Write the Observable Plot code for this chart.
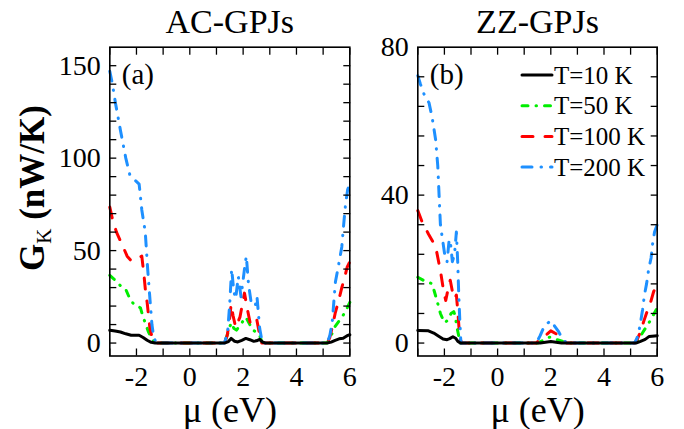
<!DOCTYPE html>
<html><head><meta charset="utf-8">
<script src="https://cdn.jsdelivr.net/npm/d3@7"></script>
<script src="https://cdn.jsdelivr.net/npm/@observablehq/plot@0.6"></script>
<style>
body{margin:0;background:#fff;}
#fig{position:relative;width:684px;height:429px;overflow:hidden;background:#fff;}
#fig svg{position:absolute;top:0;}
#fig svg text{font-family:"Liberation Serif", "Times New Roman", serif !important;}
</style></head><body><div id="fig"></div>
<script>
// ---------- data (mu in eV, G_K in nW/K) ----------
const seriesNames = ["T=10 K", "T=50 K", "T=100 K", "T=200 K"];
const panelTitles = ["AC-GPJs", "ZZ-GPJs"];
const panelTags = ["(a)", "(b)"];
const xTicks = [-3, -2, -1, 0, 1, 2, 3, 4, 5, 6];
const xTickLabels = [-2, 0, 2, 4, 6];
const yTicksA = [0, 10, 20, 30, 40, 50, 60, 70, 80, 90, 100, 110, 120, 130, 140, 150];
const yTickLabelsA = [0, 50, 100, 150];
const yTicksB = [0, 8, 16, 24, 32, 40, 48, 56, 64, 72];
const yTickLabelsB = [0, 40, 80];

const acT10 = [[-3,6.9],[-2.8,6.5],[-2.6,6],[-2.4,5],[-2.2,4.2],[-1.9,4.2],[-1.75,3],[-1.6,1.5],[-1.45,0.4],[-1.3,0],[1.3,0],[1.45,0.8],[1.55,2.5],[1.68,1],[1.8,0.6],[1.95,1.5],[2.1,2.5],[2.25,1.8],[2.38,1],[2.5,1.2],[2.62,2],[2.72,0.6],[2.85,0],[5.15,0],[5.3,0.5],[5.45,1.5],[5.6,2.3],[5.75,2.6],[5.9,4],[6,4.5]];
const acT50 = [[-3,36.6],[-2.8,34],[-2.6,31],[-2.4,29],[-2.25,24],[-2.1,21],[-1.95,20],[-1.85,19],[-1.75,14],[-1.66,10.5],[-1.55,6],[-1.47,3.5],[-1.35,1],[-1.25,0],[1.3,0],[1.42,5],[1.5,9],[1.57,11],[1.65,8],[1.75,7],[1.9,10],[2.1,14],[2.25,10],[2.35,7],[2.5,6],[2.62,4],[2.72,0],[5.15,0],[5.3,4],[5.45,9],[5.6,12],[5.75,15],[5.9,19],[6,22]];
const acT100 = [[-3,73.5],[-2.9,67],[-2.75,60],[-2.5,52],[-2.35,47],[-2.2,44.5],[-2.0,45.5],[-1.8,47],[-1.72,37],[-1.66,28],[-1.6,22],[-1.5,8.5],[-1.4,2],[-1.3,0],[1.3,0],[1.4,4],[1.47,10],[1.55,21],[1.62,15],[1.72,8.5],[1.88,14],[2.05,27],[2.15,19],[2.27,10.5],[2.5,13.5],[2.6,6],[2.7,0],[5.15,0],[5.25,3],[5.35,9],[5.45,16],[5.6,24],[5.7,30],[5.8,35],[5.9,41],[6,44]];
const acT200 = [[-3,147],[-2.9,140],[-2.79,130],[-2.6,115],[-2.4,100],[-2.25,91],[-2.05,88],[-1.9,86],[-1.8,72],[-1.67,60],[-1.58,40],[-1.49,23],[-1.42,10],[-1.35,3],[-1.25,0],[1.3,0],[1.42,6],[1.5,22],[1.57,40],[1.65,28],[1.72,24],[1.82,36],[1.92,25],[2.05,40],[2.12,47],[2.2,32],[2.3,22],[2.45,20],[2.52,25],[2.62,8],[2.72,0],[5.15,0],[5.25,4],[5.34,11],[5.4,22],[5.46,33],[5.59,43],[5.7,52],[5.77,64],[5.84,75],[5.92,83],[6,86]];

const zzT10 = [[-3,3.4],[-2.6,3.3],[-2.4,2.7],[-2.2,1.8],[-2.05,1.1],[-1.9,0.9],[-1.8,1.2],[-1.68,1.7],[-1.58,1.3],[-1.5,0.5],[-1.4,0],[1.6,0],[2,0.4],[2.4,0],[5.2,0],[5.35,0.4],[5.55,1],[5.7,1.8],[6,2]];
const zzT50 = [[-3,17.8],[-2.8,17],[-2.6,16.5],[-2.46,16],[-2.28,11.5],[-2.15,8],[-2.0,5.5],[-1.9,6],[-1.75,8],[-1.65,8.5],[-1.6,7.5],[-1.52,4],[-1.45,1.5],[-1.4,0],[1.5,0],[1.7,0.7],[1.95,1.6],[2.2,1],[2.4,0.6],[2.6,0],[5.2,0],[5.3,1],[5.45,2.8],[5.62,4.7],[5.75,6.2],[5.85,7.5],[6,9.5]];
const zzT100 = [[-3,35.8],[-2.85,33],[-2.6,29.5],[-2.4,27],[-2.3,25],[-2.15,19.6],[-2.05,15],[-1.95,11.5],[-1.85,15],[-1.78,17],[-1.7,14],[-1.62,12],[-1.55,13],[-1.5,9],[-1.45,4],[-1.4,1],[-1.35,0],[1.45,0],[1.6,1],[1.8,2],[2.0,3.3],[2.2,2.5],[2.4,1.2],[2.6,0],[5.15,0],[5.25,1],[5.37,3],[5.5,6],[5.62,8.5],[5.75,11],[5.87,14],[6,15.5]];
const zzT200 = [[-3,72.3],[-2.9,70],[-2.75,67],[-2.58,65],[-2.46,61],[-2.33,55],[-2.25,48],[-2.2,40],[-2.15,32],[-2.05,27],[-1.97,23],[-1.9,22],[-1.82,28],[-1.77,27],[-1.7,22],[-1.62,24],[-1.55,30],[-1.5,22],[-1.46,13],[-1.42,6],[-1.38,0],[1.45,0],[1.6,2],[1.75,4.5],[1.9,5.5],[2.02,6],[2.15,4.5],[2.3,3],[2.45,1],[2.6,0],[5.15,0],[5.25,1.5],[5.35,4.5],[5.45,9],[5.52,13],[5.6,16],[5.68,20],[5.77,23],[5.83,27],[5.9,30],[6,32]];

// ---------- styles ----------
const styles = [
  {color: "#000000", dash: null, width: 3},
  {color: "#00ee00", dash: "6,8,0.5,8", width: 3},
  {color: "#ff0000", dash: "11,12", width: 3},
  {color: "#1e90ff", dash: "10,9,0.5,9", width: 3}
];
const FONT = "Liberation Serif, Times New Roman, serif";
const H = 429, MT = 46.7, MB = 73.5;

function panel({data, yDomain, yTicks, yLabels, width, marginLeft, marginRight, tag, title}) {
  const order = [1, 2, 3, 0]; // black on top
  return Plot.plot({
    width, height: H, marginTop: MT, marginBottom: MB, marginLeft, marginRight,
    x: {domain: [-3, 6], axis: null},
    y: {domain: yDomain, axis: null},
    style: {fontFamily: FONT, fontSize: "28px", background: "transparent", color: "black", overflow: "visible"},
    marks: [
      ...order.map(i => Plot.line(data[i], {x: d => d[0], y: d => d[1], stroke: styles[i].color,
        strokeWidth: styles[i].width, strokeDasharray: styles[i].dash, strokeLinecap: "round"})),
      Plot.frame({stroke: "black", strokeWidth: 1.6}),
      Plot.axisX({anchor: "bottom", ticks: xTicks, tickSize: -7, tickFormat: () => "", label: null, strokeWidth: 1.3}),
      Plot.axisX({anchor: "top", ticks: xTicks, tickSize: -7, tickFormat: () => "", label: null, strokeWidth: 1.3}),
      Plot.axisY({anchor: "left", ticks: yTicks, tickSize: -7, tickFormat: () => "", label: null, strokeWidth: 1.3}),
      Plot.axisY({anchor: "right", ticks: yTicks, tickSize: -7, tickFormat: () => "", label: null, strokeWidth: 1.3}),
      // tick labels
      Plot.text(xTickLabels, {x: d => d, frameAnchor: "bottom", dy: 29.5, lineAnchor: "bottom", fontSize: 28, fontFamily: FONT, text: d => String(d)}),
      Plot.text(yLabels, {y: d => d, frameAnchor: "left", dx: -9, textAnchor: "end", lineAnchor: "middle", fontSize: 28, fontFamily: FONT, text: d => String(d)}),
      Plot.text([title], {frameAnchor: "top", dy: -14, lineAnchor: "bottom", fontSize: 34, fontFamily: FONT, text: d => d}),
      Plot.text([tag], {frameAnchor: "top-left", dx: 12, dy: 28, textAnchor: "start", lineAnchor: "middle", fontSize: 29, fontFamily: FONT, text: d => d}),
      Plot.text(["μ (eV)"], {frameAnchor: "bottom", dy: 66, lineAnchor: "bottom", fontSize: 36, fontFamily: FONT, text: d => d})
    ]
  });
}

const fig = document.getElementById("fig");
const plotA = panel({data: [acT10, acT50, acT100, acT200], yDomain: [-7, 160], yTicks: yTicksA, yLabels: yTickLabelsA,
  width: 360, marginLeft: 109.3, marginRight: 10.7, tag: panelTags[0], title: panelTitles[0]});
const plotB = panel({data: [zzT10, zzT50, zzT100, zzT200], yDomain: [-3.5, 80], yTicks: yTicksB, yLabels: yTickLabelsB,
  width: 324, marginLeft: 57.3, marginRight: 27.3, tag: panelTags[1], title: panelTitles[1]});
plotA.style.left = "0px";
plotB.style.left = "360px";
fig.appendChild(plotA);
fig.appendChild(plotB);

// y-axis label with subscript
const yl = d3.select(plotA).append("text")
  .attr("transform", "translate(44,188) rotate(-90)")
  .attr("text-anchor", "middle")
  .attr("font-family", FONT).attr("font-size", 35).attr("font-weight", "bold").attr("fill", "black");
yl.append("tspan").text("G");
yl.append("tspan").attr("font-size", 21).attr("font-weight", "normal").attr("dy", 7).text("K");
yl.append("tspan").attr("dy", -7).text(" (nW/K)");

// legend inside panel (b)
const lg = d3.select(plotB).append("g").attr("transform", "translate(160,0)");
seriesNames.forEach((name, i) => {
  const y = 75 + i * 30.7;
  lg.append("line").attr("x1", 2).attr("x2", 32).attr("y1", y).attr("y2", y)
    .attr("stroke", styles[i].color).attr("stroke-width", styles[i].width)
    .attr("stroke-dasharray", styles[i].dash).attr("stroke-linecap", "round");
  lg.append("text").attr("x", 34).attr("y", y).attr("dy", "0.34em").attr("text-anchor", "start")
    .attr("font-family", FONT).attr("font-size", 25).attr("fill", "black").text(name);
});
</script></body></html>
